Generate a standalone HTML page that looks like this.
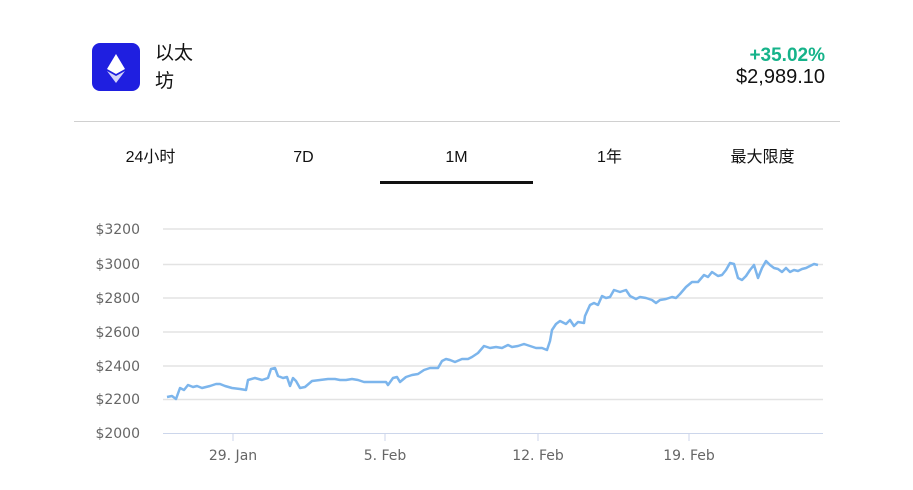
<!DOCTYPE html>
<html><head><meta charset="utf-8"><style>
body{margin:0;width:913px;height:490px;background:#fff;font-family:"Liberation Sans","Noto Sans CJK SC",sans-serif;position:relative;overflow:hidden;color:#111}
.a{position:absolute;white-space:nowrap}
.t{position:absolute;top:148px;height:20px;line-height:20px;width:153px;text-align:center;font-size:16px;overflow:visible}
</style></head><body>
<div class="a" style="left:92px;top:43px;width:48px;height:48px;background:#1f1fe0;border-radius:8px"></div>
<svg class="a" style="left:92px;top:43px" width="48" height="48"><polygon points="24,11 33,26 24,31 15,26" fill="#fff"/><polygon points="15,28 24,33 33,28 24,40" fill="#fff" opacity="0.8"/></svg>
<div class="a" style="left:155px;top:40px;font-size:19px;line-height:28px">以太<br>坊</div>
<div class="a" style="right:88px;top:45px;font-size:19px;font-weight:bold;color:#16b38a">+35.02%</div>
<div class="a" style="right:88px;top:66px;font-size:20px">$2,989.10</div>
<div class="a" style="left:74px;top:121px;width:766px;height:1px;background:#d0d0d0"></div>
<div class="t" style="left:74px">24小时</div>
<div class="t" style="left:227px">7D</div>
<div class="t" style="left:380px">1M</div>
<div class="t" style="left:533px">1年</div>
<div class="t" style="left:686px">最大限度</div>
<div class="a" style="left:380px;top:181px;width:153px;height:3px;background:#111"></div>
<svg class="a" style="left:0;top:0" width="913" height="490">
<g stroke="#e3e3e3" stroke-width="1.5">
<line x1="163" x2="823" y1="229" y2="229"/><line x1="163" x2="823" y1="264.5" y2="264.5"/><line x1="163" x2="823" y1="298" y2="298"/><line x1="163" x2="823" y1="332" y2="332"/><line x1="163" x2="823" y1="366" y2="366"/><line x1="163" x2="823" y1="399.5" y2="399.5"/></g>
<line x1="163" x2="823" y1="433.5" y2="433.5" stroke="#ccd6eb" stroke-width="1"/>
<g stroke="#ccd6eb"><line x1="233" x2="233" y1="433" y2="441"/><line x1="385" x2="385" y1="433" y2="441"/><line x1="538" x2="538" y1="433" y2="441"/><line x1="689" x2="689" y1="433" y2="441"/></g>
<g font-size="14" fill="#666" text-anchor="end" font-family="DejaVu Sans,sans-serif">
<text x="140" y="234">$3200</text><text x="140" y="269">$3000</text><text x="140" y="303">$2800</text><text x="140" y="337">$2600</text><text x="140" y="371">$2400</text><text x="140" y="404">$2200</text><text x="140" y="438">$2000</text></g>
<g font-size="14" fill="#666" text-anchor="middle" font-family="DejaVu Sans,sans-serif">
<text x="233" y="460">29. Jan</text><text x="385" y="460">5. Feb</text><text x="538" y="460">12. Feb</text><text x="689" y="460">19. Feb</text></g>
<polyline fill="none" stroke="#7cb5ec" stroke-width="2.5" stroke-linejoin="round" points="167,397 172,396 176,399 180,388 184,390 188,385 193,387 197,386 202,388 210,386 216,384 220,384 225,386 232,388 240,389 246,390 248,380 255,378 262,380 268,378 271,369 275,368 278,376 283,378 287,377 290,386 293,378 296,381 300,388 305,387 312,381 320,380 328,379 335,379 340,380 346,380 352,379 358,380 364,382 370,382 376,382 382,382 386,382 388,385 393,378 397,377 400,382 406,377 412,375 418,374 424,370 430,368 438,368 442,361 446,359 450,360 455,362 462,359 468,359 472,357 478,353 484,346 490,348 496,347 502,348 508,345 512,347 518,346 524,344 530,346 536,348 542,348 547,350 550,341 552,330 556,324 560,321 566,324 570,320 574,326 578,322 584,323 585,316 590,305 594,303 598,305 602,296 606,298 610,297 614,290 620,292 626,290 630,296 636,299 640,297 646,298 652,300 656,303 660,300 666,299 672,297 676,298 680,294 686,287 692,282 698,282 704,275 708,277 712,272 718,276 722,275 726,270 730,263 734,264 738,278 742,280 746,276 750,270 754,265 758,278 762,268 766,261 770,265 774,268 778,269 782,272 786,268 790,272 794,270 798,271 802,269 806,268 810,266 814,264 818,265"/>
</svg>
</body></html>
